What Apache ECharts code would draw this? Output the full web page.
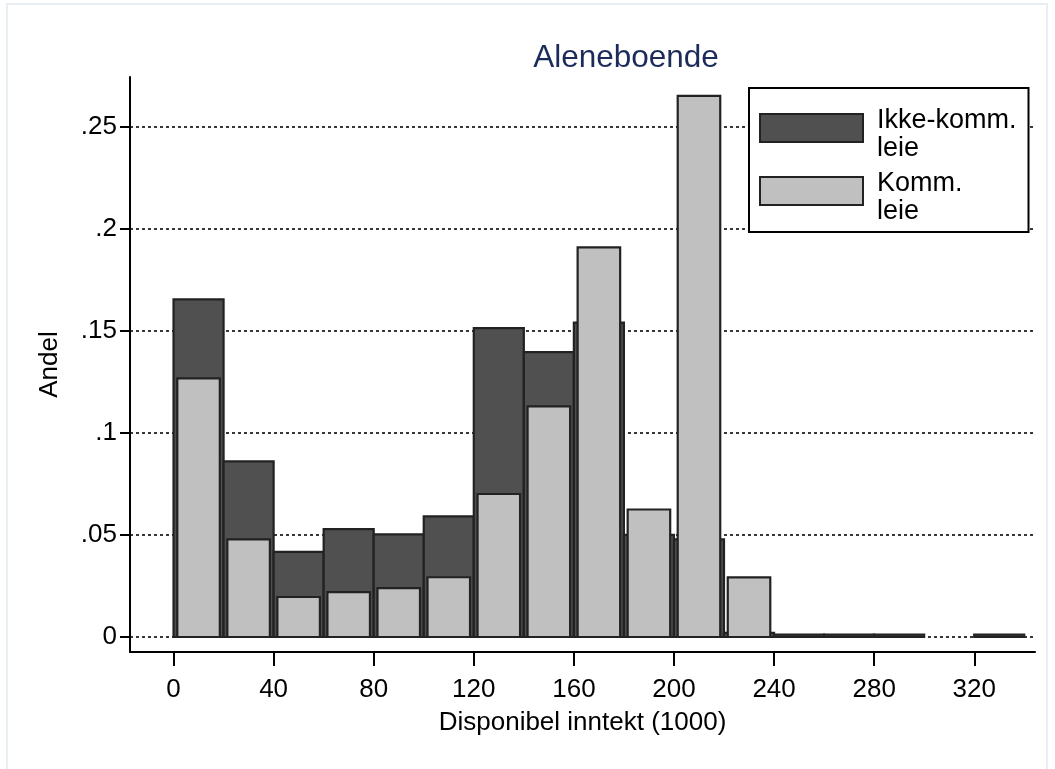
<!DOCTYPE html>
<html><head><meta charset="utf-8">
<script src="https://cdn.jsdelivr.net/npm/echarts@6/dist/echarts.min.js"></script>
<style>
html,body{margin:0;padding:0;background:#fff}
#frame{position:absolute;left:6px;top:3px;width:1042px;height:775px;border:2px solid #e8eff2;box-sizing:border-box;z-index:5;pointer-events:none}
#c{position:absolute;left:0;top:0;width:1055px;height:769px}
</style>
</head><body><div id="c"></div><div id="frame"></div>
<script>
// ---- data ----
const binStarts = [0, 20, 40, 60, 80, 100, 120, 140, 160, 180, 200, 220, 240, 260, 280, 300, 320];
const binWidth = 20;
const ikkeKommLeie = [0.1655, 0.0861, 0.0417, 0.0529, 0.0503, 0.0591, 0.1514, 0.1396, 0.1541, 0.0501, 0.0479, 0.0020, 0.0012, 0.0012, 0.0012, null, 0.0012];
const kommLeie     = [0.1268, 0.0479, 0.0196, 0.0220, 0.0240, 0.0293, 0.0701, 0.1130, 0.1910, 0.0625, 0.2652, 0.0292, null, null, null, null, null];
const seriesNames = ['Ikke-komm. leie', 'Komm. leie'];
const xTickMin = 0, xTickMax = 320, xTickStep = 40;
const yTickMin = 0, yTickMax = 0.25, yTickStep = 0.05;
const yTickValues = [0, 0.05, 0.1, 0.15, 0.2, 0.25];
const yTickLabels = ['0', '.05', '.1', '.15', '.2', '.25'];
const titleText = 'Aleneboende';
const xTitle = 'Disponibel inntekt (1000)';
const yTitle = 'Andel';

// ---- chart ----
const FONT = "'Liberation Sans', Arial, sans-serif";
const X_MIN = -17.4, X_MAX = 344.3;          // full plot extent
const Y_MAX = 0.2745, Y_MIN_FRAME = -0.00735;
const PX_PER_X = 2.5025, X0_PX = 173.5;      // x scale used to line up tick grid
const PX_PER_Y = 2040, Y0_PX = 637;
const W = 1055, H = 769;
const DARK = '#505050', LIGHT = '#c0c0c0', EDGE = '#222222';

function toData(vals) {
  const out = [];
  binStarts.forEach((s, i) => { if (vals[i] != null) out.push([s, vals[i]]); });
  return out;
}
function barRenderer(fill, widthUnits) {
  return function (params, api) {
    const x0 = api.value(0), v = api.value(1);
    const off = (binWidth - widthUnits) / 2;
    const p1 = api.coord([x0 + off, v]);
    const p2 = api.coord([x0 + off + widthUnits, 0]);
    return {
      type: 'rect',
      shape: { x: p1[0], y: p1[1], width: p2[0] - p1[0], height: p2[1] - p1[1] },
      style: { fill: fill, stroke: EDGE, lineWidth: 2.2 }
    };
  };
}
const tickGridLeft = X0_PX + xTickMin * PX_PER_X;
const tickGridRight = W - (X0_PX + xTickMax * PX_PER_X);
const yGridTop = Y0_PX - yTickMax * PX_PER_Y;
const AXIS_LINE = { show: true, onZero: false, lineStyle: { color: '#000', width: 2 } };

const chart = echarts.init(document.getElementById('c'), null, { renderer: 'canvas' });
chart.setOption({
  animation: false,
  backgroundColor: '#ffffff',
  textStyle: { fontFamily: FONT },
  title: {
    text: titleText, left: 621, top: 37, textAlign: 'center',
    textStyle: { fontFamily: FONT, fontSize: 31.5, fontWeight: 'normal', color: '#1c2b5a' }
  },
  legend: {
    orient: 'vertical', left: 749, top: 88,
    backgroundColor: '#ffffff', borderColor: '#000000', borderWidth: 2, borderRadius: 0,
    padding: [5, 12, 6, 10],
    itemWidth: 103, itemHeight: 28, itemGap: -7,
    icon: 'rect',
    data: [
      { name: seriesNames[0], itemStyle: { color: DARK, borderColor: EDGE, borderWidth: 2 } },
      { name: seriesNames[1], itemStyle: { color: LIGHT, borderColor: EDGE, borderWidth: 2 } }
    ],
    formatter: n => '{s| }\n' + n.replace(' ', '\n'),
    textStyle: {
      fontFamily: FONT, fontSize: 27, lineHeight: 28, color: '#000', padding: [0, 0, 0, 9],
      rich: { s: { fontSize: 6, lineHeight: 14 } }
    }
  },
  grid: [
    { left: 130, right: 20, top: 77, bottom: H - Y0_PX },                 // 0: bars
    { left: 130, right: 20, top: 77, bottom: 117 },                       // 1: axis lines + titles
    { left: tickGridLeft, right: tickGridRight, top: 77, bottom: 117 },   // 2: x ticks/labels
    { left: 130, right: 20, top: yGridTop, bottom: H - Y0_PX }            // 3: y ticks/labels/grid
  ],
  xAxis: [
    { type: 'value', gridIndex: 0, min: X_MIN, max: X_MAX, show: false, axisLine: { onZero: false } },
    {
      type: 'value', gridIndex: 1, min: X_MIN, max: X_MAX,
      axisLine: AXIS_LINE,
      axisTick: { show: false }, axisLabel: { show: false }, splitLine: { show: false },
      name: xTitle, nameLocation: 'middle', nameGap: 58,
      nameTextStyle: { fontSize: 26, color: '#000', fontFamily: FONT }
    },
    {
      type: 'value', gridIndex: 2, min: xTickMin, max: xTickMax, interval: xTickStep,
      axisLine: AXIS_LINE,
      axisTick: { show: true, length: 14, lineStyle: { color: '#000', width: 2 } },
      axisLabel: { show: true, margin: 25, fontSize: 26, color: '#000', fontFamily: FONT },
      splitLine: { show: false }
    },
    { type: 'value', gridIndex: 3, min: X_MIN, max: X_MAX, show: false, axisLine: { onZero: false } }
  ],
  yAxis: [
    { type: 'value', gridIndex: 0, min: 0, max: Y_MAX, show: false, axisLine: { onZero: false } },
    {
      type: 'value', gridIndex: 1, min: Y_MIN_FRAME, max: Y_MAX,
      axisLine: AXIS_LINE,
      axisTick: { show: false }, axisLabel: { show: false }, splitLine: { show: false },
      name: yTitle, nameLocation: 'middle', nameGap: 67, nameRotate: 90,
      nameTextStyle: { fontSize: 26, color: '#000', fontFamily: FONT }
    },
    { type: 'value', gridIndex: 2, min: 0, max: 1, show: false, axisLine: { onZero: false } },
    {
      type: 'value', gridIndex: 3, min: yTickMin, max: yTickMax, interval: yTickStep,
      axisLine: AXIS_LINE,
      axisTick: { show: true, length: 10, lineStyle: { color: '#000', width: 2 } },
      axisLabel: {
        show: true, margin: 13, fontSize: 26, color: '#000', fontFamily: FONT,
        formatter: v => { const i = yTickValues.findIndex(t => Math.abs(t - v) < 1e-9); return i >= 0 ? yTickLabels[i] : ''; }
      },
      splitLine: { show: true, lineStyle: { color: '#222', width: 1.8, type: [3, 3] } }
    }
  ],
  series: [
    {
      name: seriesNames[0], type: 'custom', xAxisIndex: 0, yAxisIndex: 0,
      renderItem: barRenderer(DARK, 20), encode: { x: 0, y: 1 },
      itemStyle: { color: DARK, borderColor: EDGE, borderWidth: 2 },
      data: toData(ikkeKommLeie), z: 2
    },
    {
      name: seriesNames[1], type: 'custom', xAxisIndex: 0, yAxisIndex: 0,
      renderItem: barRenderer(LIGHT, 17), encode: { x: 0, y: 1 },
      itemStyle: { color: LIGHT, borderColor: EDGE, borderWidth: 2 },
      data: toData(kommLeie), z: 3
    }
  ]
});
</script>
</body></html>
